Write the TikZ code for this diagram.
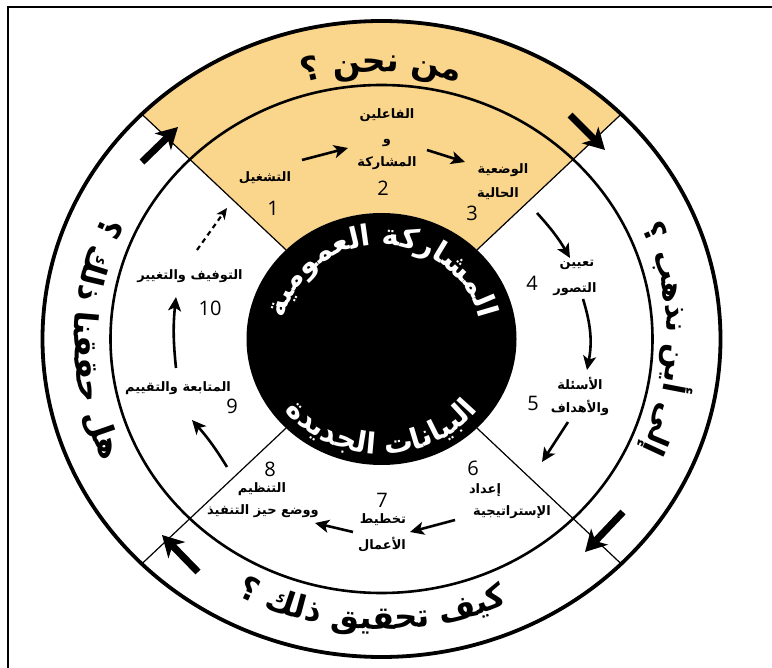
\documentclass[tikz,border=0pt]{standalone}
\usepackage{fontspec}
\usetikzlibrary{arrows.meta,decorations.text,calc}
\TeXXeTstate=1
\newfontfamily\arb[Script=Arabic,BoldFont={DejaVu Sans Bold}]{DejaVu Sans}
\newfontfamily\pf[BoldFont={DejaVu Sans Bold}]{DejaVu Sans}
\newfontfamily\numf{Open Sans}
\definecolor{sectorfill}{RGB}{250,213,140}
\newcommand\ringfont{\fontsize{30}{30}\selectfont\pf\bfseries}
\newcommand\bigringfont{\fontsize{32}{32}\selectfont\pf\bfseries}
\newcommand\topringfont{\fontsize{33}{33}\selectfont\pf\bfseries}
\newcommand\blkfont{\fontsize{29}{29}\selectfont\pf\bfseries\color{white}}
\tikzset{
  lab/.style={font=\fontsize{13}{15}\selectfont\arb\bfseries, inner sep=0pt},
  num/.style={font=\fontsize{20}{20}\selectfont\numf, inner sep=0pt},
  steparrow/.style={line width=2.6pt, -{Stealth[length=14pt,width=13pt,inset=3.5pt]}},
  bigarrow/.style={line width=7pt, -{Stealth[length=21pt,width=23pt,inset=6pt]}},
}
\begin{document}
\begin{tikzpicture}[x=1pt,y=1pt]
\useasboundingbox (0,0) rectangle (772,-668);
\fill[white] (0,0) rectangle (772,-668);
\coordinate (C) at (381.5,-339);
% orange sector
\fill[sectorfill] ($(C)+(45:339pt and 318pt)$) arc[start angle=45,end angle=135,x radius=339pt,y radius=318pt]
  -- ($(C)+(135:135pt and 126pt)$) arc[start angle=135,end angle=45,x radius=135pt,y radius=126pt] -- cycle;
% black centre
\fill[black] (C) ellipse[x radius=135pt,y radius=126pt];
% radial lines
\foreach \a in {45,135,225,315}
  \draw[line width=1.2pt] ($(C)+(\a:135pt and 126pt)$) -- ($(C)+(\a:339pt and 318pt)$);
% rings
\draw[line width=2.6pt] (C) ellipse[x radius=271pt,y radius=254pt];
\draw[line width=3.8pt] (C) ellipse[x radius=339pt,y radius=318pt];
% frame
\draw[line width=2pt] (8,-668) -- (8,-7) -- (772,-7);

% ring texts
\path[decorate,decoration={text along path,text align=center,
  text={|\topringfont|^^^^061f ^^^^fee6^^^^fea4^^^^fee7 ^^^^fee6^^^^fee3}}]
  ($(C)+(150:285pt and 267pt)$) arc[start angle=150,end angle=30,x radius=285pt,y radius=267pt];
\path[decorate,decoration={text along path,text align=center,
  text={|\ringfont|^^^^061f ^^^^fe90^^^^feeb^^^^feac^^^^fee7 ^^^^fee6^^^^fef3^^^^fe83 ^^^^fef0^^^^fedf^^^^fe87}}]
  ($(C)+(60:286pt and 268pt)$) arc[start angle=60,end angle=-60,x radius=286pt,y radius=268pt];
\path[decorate,decoration={text along path,text align=center,
  text={|\bigringfont|^^^^061f ^^^^feda^^^^fedf^^^^feab ^^^^fed6^^^^fef4^^^^fed8^^^^fea4^^^^fe97 ^^^^fed2^^^^fef4^^^^fedb}}]
  ($(C)+(-152:309pt and 290pt)$) arc[start angle=-152,end angle=-32,x radius=309pt,y radius=290pt];
\path[decorate,decoration={text along path,text align=center,
  text={|\bigringfont|^^^^061f ^^^^feda^^^^fedf^^^^feab ^^^^fe8e^^^^fee8^^^^fed8^^^^fed8^^^^fea3 ^^^^fede^^^^feeb}}]
  ($(C)+(120:307pt and 288pt)$) arc[start angle=120,end angle=240,x radius=307pt,y radius=288pt];

% black circle texts
\path[decorate,decoration={text along path,text align=center,
  text={|\blkfont|^^^^fe94^^^^fef4^^^^fee3^^^^feee^^^^fee4^^^^fecc^^^^fedf^^^^fe8d ^^^^fe94^^^^fedb^^^^fead^^^^fe8e^^^^feb8^^^^fee4^^^^fedf^^^^fe8d}}]
  ($(C)+(178:100pt and 94pt)$) arc[start angle=178,end angle=2,x radius=100pt,y radius=94pt];
\path[decorate,decoration={text along path,text align=center,
  text={|\blkfont|^^^^fe93^^^^feaa^^^^fef3^^^^feaa^^^^fea0^^^^fedf^^^^fe8d ^^^^fe95^^^^fe8e^^^^fee7^^^^fe8e^^^^fef4^^^^fe92^^^^fedf^^^^fe8d}}]
  ($(C)+(-178:123pt and 115pt)$) arc[start angle=-178,end angle=-2,x radius=123pt,y radius=115pt];

% step labels
\node[lab] (l1) at (265,-178) {\beginR التشغيل\endR};
\node[num] (n1) at (273,-208) {1};
\node[lab] (l2a) at (387,-115) {\beginR الفاعلين\endR};
\node[lab] (l2b) at (387,-143) {\beginR و\endR};
\node[lab] (l2c) at (387,-163) {\beginR المشاركة\endR};
\node[num] (n2) at (383,-188) {2};
\node[lab] (l3a) at (503,-170) {\beginR الوضعية\endR};
\node[lab] (l3b) at (498,-194) {\beginR الحالية\endR};
\node[num] (n3) at (472,-213) {3};
\node[lab] (l4a) at (577,-265) {\beginR تعيين\endR};
\node[lab] (l4b) at (575,-289) {\beginR التصور\endR};
\node[num] (n4) at (532,-283) {4};
\node[lab] (l5a) at (580,-383) {\beginR الأسئلة\endR};
\node[lab] (l5b) at (580,-408) {\beginR والأهداف\endR};
\node[num] (n5) at (533,-403) {5};
\node[num] (n6) at (473,-468) {6};
\node[lab] (l6a) at (485,-490) {\beginR إعداد\endR};
\node[lab] (l6b) at (512,-512) {\beginR الإستراتيجية\endR};
\node[num] (n7) at (382,-500) {7};
\node[lab] (l7a) at (383,-520) {\beginR تخطيط\endR};
\node[lab] (l7b) at (382,-545) {\beginR الأعمال\endR};
\node[num] (n8) at (270,-469) {8};
\node[lab] (l8a) at (262,-489) {\beginR التنظيم\endR};
\node[lab] (l8b) at (263,-511) {\beginR ووضع حيز التنفيذ\endR};
\node[lab] (l9) at (178,-388) {\beginR المتابعة والتقييم\endR};
\node[num] (n9) at (232,-406) {9};
\node[lab] (l10) at (190,-276) {\beginR التوفيف والتغيير\endR};
\node[num] (n10) at (210,-308) {10};

% step arrows
\coordinate (a1s) at (302,-160); \coordinate (a1e) at (348,-148);
\coordinate (a2s) at (427,-150); \coordinate (a2e) at (465,-162);
\coordinate (a3s) at (537,-213); \coordinate (a3e) at (570,-258);
\coordinate (a4s) at (583,-299); \coordinate (a4e) at (587,-370);
\coordinate (a5s) at (568,-422); \coordinate (a5e) at (542,-462);
\coordinate (a6s) at (455,-520); \coordinate (a6e) at (410,-532);
\coordinate (a7s) at (353,-532); \coordinate (a7e) at (315,-523);
\coordinate (a8s) at (227,-467); \coordinate (a8e) at (192,-420);
\coordinate (a9s) at (176,-368); \coordinate (a9e) at (176,-297);
\coordinate (a10s) at (197,-250); \coordinate (a10e) at (227,-208);
\draw[steparrow] (a1s) -- (a1e);
\draw[steparrow] (a2s) -- (a2e);
\draw[steparrow] (a3s) to[bend left=6] (a3e);
\draw[steparrow] (a4s) to[bend left=14] (a4e);
\draw[steparrow] (a5s) -- (a5e);
\draw[steparrow] (a6s) -- (a6e);
\draw[steparrow] (a7s) -- (a7e);
\draw[steparrow] (a8s) to[bend right=5] (a8e);
\draw[steparrow] (a9s) to[bend left=6] (a9e);
\draw[line width=2.2pt, dash pattern=on 5pt off 4pt, -{Stealth[length=11pt,width=10pt,inset=3pt]}] (a10s) -- (a10e);

% big ring arrows
\coordinate (b1s) at (142,-162); \coordinate (b1e) at (178,-127);
\coordinate (b2s) at (570,-115); \coordinate (b2e) at (605,-150);
\coordinate (b3s) at (623,-512); \coordinate (b3e) at (585,-552);
\coordinate (b4s) at (198,-572); \coordinate (b4e) at (162,-535);
\draw[bigarrow] (b1s) -- (b1e);
\draw[bigarrow] (b2s) -- (b2e);
\draw[bigarrow] (b3s) -- (b3e);
\draw[bigarrow] (b4s) -- (b4e);
\end{tikzpicture}
\end{document}
